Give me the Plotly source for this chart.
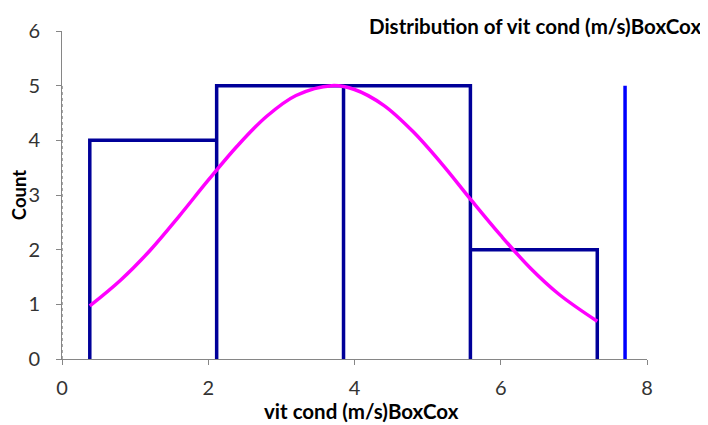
import plotly.graph_objects as go

# Histogram data
bin_edges = [0.38, 2.115, 3.85, 5.585, 7.32]
counts = [4, 5, 5, 2]

# Fitted normal curve
curve_x = [0.38, 0.8, 1.2, 1.6, 2.0, 2.4, 2.8, 3.2, 3.69, 4.0, 4.4, 4.8, 5.2, 5.6, 6.0, 6.4, 6.8, 7.32]
curve_y = [0.97, 1.44, 1.98, 2.61, 3.27, 3.90, 4.44, 4.82, 5.00, 4.93, 4.64, 4.16, 3.56, 2.90, 2.26, 1.67, 1.18, 0.69]

# Vertical reference lines
ref_x = [7.70]
ref_y = [0, 5]
base_x = [0.0]

title_text = "Distribution of vit cond (m/s)BoxCox"
x_title = "vit cond (m/s)BoxCox"
y_title = "Count"

# Build outline path of histogram (no bottom edge)
hx, hy = [], []
for i, c in enumerate(counts):
    hx += [bin_edges[i], bin_edges[i], bin_edges[i + 1], bin_edges[i + 1]]
    hy += [0, c, c, 0]

W, H = 708, 425
OFF = 8  # page body margin

fig = go.Figure()
fig.add_trace(go.Scatter(
    x=hx, y=hy, mode="lines",
    line=dict(color="#000099", width=3.5), showlegend=False, hoverinfo="skip"))
fig.add_trace(go.Scatter(
    x=[base_x[0], base_x[0]], y=ref_y, mode="lines",
    line=dict(color="#555555", width=1, dash="dot"), showlegend=False))
fig.add_trace(go.Scatter(
    x=curve_x, y=curve_y, mode="lines", line=dict(color="#FF00FF", width=3.5, shape="spline"),
    showlegend=False))
fig.add_trace(go.Scatter(
    x=[ref_x[0], ref_x[0]], y=ref_y, mode="lines",
    line=dict(color="#0000FF", width=3.5), showlegend=False))

font_family = "Lato, 'Open Sans', sans-serif"
fig.update_layout(
    width=W, height=H,
    margin=dict(l=62 - OFF, r=W - (647 - OFF), t=31 - OFF, b=H - (359 - OFF)),
    paper_bgcolor="white", plot_bgcolor="white",
    font=dict(family=font_family, color="#000000"),
    xaxis=dict(range=[0, 8], tickvals=[0, 2, 4, 6, 8], showgrid=False, zeroline=False,
               showline=True, linecolor="#868686", linewidth=1, automargin=False,
               ticks="outside", ticklen=5, tickcolor="#868686", ticklabelstandoff=6,
               tickfont=dict(size=20, color="#333333")),
    yaxis=dict(range=[0, 6], tickvals=[0, 1, 2, 3, 4, 5, 6], showgrid=False, zeroline=False,
               showline=True, linecolor="#868686", linewidth=1, automargin=False,
               ticks="outside", ticklen=5, tickcolor="#868686", ticklabelstandoff=12,
               tickfont=dict(size=20, color="#333333"),
               title=dict(text="<b>" + y_title + "</b>", standoff=4,
                          font=dict(size=18.5, family=font_family, color="#000000"))),
    annotations=[
        dict(text="<b>" + title_text + "</b>", xref="paper", yref="paper",
             x=(703 - 62) / (647 - 62), y=(359 - 26) / (359 - 31),
             xanchor="right", yanchor="middle", showarrow=False,
             font=dict(size=20.5, family=font_family, color="#000000")),
        dict(text="<b>" + x_title + "</b>", xref="paper", yref="paper",
             x=(361 - 62) / (647 - 62), y=(359 - 411) / (359 - 31),
             xanchor="center", yanchor="middle", showarrow=False,
             font=dict(size=20.5, family=font_family, color="#000000")),
    ],
)

fig.write_html("out.html")
